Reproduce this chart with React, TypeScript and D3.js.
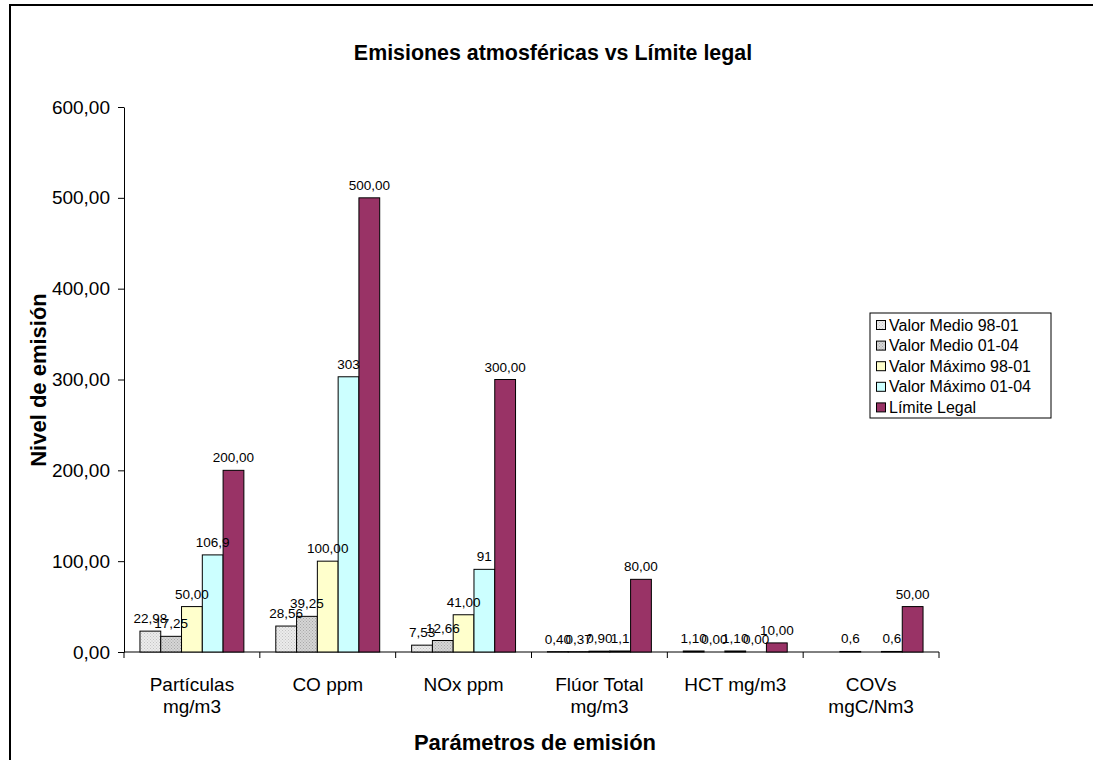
import React, { useRef, useEffect } from 'react';
import * as d3 from 'd3';

const categories = ['Partículas\nmg/m3', 'CO ppm', 'NOx ppm', 'Flúor Total\nmg/m3', 'HCT mg/m3', 'COVs\nmgC/Nm3'];
const seriesNames = ['Valor Medio 98-01', 'Valor Medio 01-04', 'Valor Máximo 98-01', 'Valor Máximo 01-04', 'Límite Legal'];

const medio9801 = [22.98, 28.56, 7.53, 0.4, 1.1, null];
const medio0104 = [17.25, 39.25, 12.66, 0.37, 0.0, 0.6];
const maximo9801 = [50.0, 100.0, 41.0, 0.9, 1.1, null];
const maximo0104 = [106.9, 303, 91, 1.1, 0.0, 0.6];
const limiteLegal = [200.0, 500.0, 300.0, 80.0, 10.0, 50.0];

// labels exactly as printed on the chart
const medio9801Labels = ['22,98', '28,56', '7,53', '0,40', '1,10', ''];
const medio0104Labels = ['17,25', '39,25', '12,66', '0,37', '0,00', '0,6'];
const maximo9801Labels = ['50,00', '100,00', '41,00', '0,90', '1,10', ''];
const maximo0104Labels = ['106,9', '303', '91', '1,1', '0,00', '0,6'];
const limiteLegalLabels = ['200,00', '500,00', '300,00', '80,00', '10,00', '50,00'];

const yTicks = [0, 100, 200, 300, 400, 500, 600];

const font = '"Liberation Sans", Arial, sans-serif';

export default function App() {
  const chartRef = useRef<SVGSVGElement>(null);

  useEffect(() => {
    const svg = d3.select(chartRef.current);
    svg.selectAll('*').remove();

    const allValues = [medio9801, medio0104, maximo9801, maximo0104, limiteLegal];
    const allLabels = [medio9801Labels, medio0104Labels, maximo9801Labels, maximo0104Labels, limiteLegalLabels];
    const fills = ['url(#dotLight)', 'url(#dotDark)', '#ffffcc', '#ccffff', '#993366'];

    const defs = svg.append('defs');
    const mkPattern = (id: string, bg: string, dot: string) => {
      const p = defs.append('pattern')
        .attr('id', id)
        .attr('width', 3)
        .attr('height', 3)
        .attr('patternUnits', 'userSpaceOnUse');
      p.append('rect').attr('width', 3).attr('height', 3).attr('fill', bg);
      p.append('rect').attr('x', 0).attr('y', 0).attr('width', 1).attr('height', 1).attr('fill', dot);
      p.append('rect').attr('x', 1.5).attr('y', 1.5).attr('width', 1).attr('height', 1).attr('fill', dot);
    };
    mkPattern('dotLight', '#ececec', '#c4c4c4');
    mkPattern('dotDark', '#d6d6d6', '#a8a8a8');

    svg.append('rect')
      .attr('x', 0).attr('y', 0)
      .attr('width', 1093).attr('height', 760)
      .attr('fill', 'white');

    // outer frame: only top and left edges are inside the picture
    svg.append('path')
      .attr('d', 'M10,760 L10,5 L1093,5')
      .attr('fill', 'none')
      .attr('stroke', 'black')
      .attr('stroke-width', 2);

    const x = d3.scaleBand<string>()
      .domain(categories)
      .range([124, 939])
      .paddingInner(0.235)
      .paddingOuter(0.1175);

    const xs = d3.scaleBand<number>()
      .domain(d3.range(seriesNames.length))
      .range([0, x.bandwidth()]);

    const y = d3.scaleLinear().domain([0, 600]).range([652, 107]);

    const fmt = d3.formatLocale({ decimal: ',', thousands: '.', grouping: [3], currency: ['', '€'] }).format('.2f');

    // y axis
    const yAxis = svg.append('g')
      .attr('transform', 'translate(124,0)')
      .call(d3.axisLeft(y).tickValues(yTicks).tickFormat(d => fmt(d as number)).tickSize(6).tickSizeOuter(0));
    yAxis.select('.domain').attr('stroke', '#000');
    yAxis.selectAll('.tick line').attr('stroke', '#000');
    yAxis.selectAll('.tick text')
      .attr('font-family', font)
      .attr('font-size', 19)
      .attr('fill', '#000')
      .attr('x', -14);

    // x axis line + boundary ticks
    const step = x.step();
    const bounds = d3.range(categories.length + 1).map(i => x.range()[0] + i * step);
    svg.append('line')
      .attr('x1', x.range()[0]).attr('x2', x.range()[1])
      .attr('y1', y(0)).attr('y2', y(0))
      .attr('stroke', '#000');
    svg.selectAll('.xtick')
      .data(bounds)
      .enter().append('line')
      .attr('class', 'xtick')
      .attr('x1', d => d).attr('x2', d => d)
      .attr('y1', y(0)).attr('y2', y(0) + 6)
      .attr('stroke', '#000');

    // category labels
    categories.forEach(c => {
      const cx = x(c)! + x.bandwidth() / 2;
      c.split('\n').forEach((line, i) => {
        svg.append('text')
          .attr('x', cx)
          .attr('y', 691 + i * 22)
          .attr('text-anchor', 'middle')
          .attr('font-family', font)
          .attr('font-size', 19)
          .text(line);
      });
    });

    // bars
    const barG = svg.append('g');
    allValues.forEach((vals, s) => {
      categories.forEach((c, i) => {
        const v = vals[i];
        if (v === null) return;
        barG.append('rect')
          .attr('x', x(c)! + xs(s)!)
          .attr('y', y(v))
          .attr('width', xs.bandwidth())
          .attr('height', y(0) - y(v))
          .attr('fill', fills[s])
          .attr('stroke', '#000')
          .attr('stroke-width', 1);
      });
    });

    // data labels on top of all bars
    const labelG = svg.append('g');
    allValues.forEach((vals, s) => {
      categories.forEach((c, i) => {
        const v = vals[i];
        if (v === null) return;
        labelG.append('text')
          .attr('x', x(c)! + xs(s)! + xs.bandwidth() / 2)
          .attr('y', y(v) - 8)
          .attr('text-anchor', 'middle')
          .attr('font-family', font)
          .attr('font-size', 13.5)
          .text(allLabels[s][i]);
      });
    });

    // title
    svg.append('text')
      .attr('x', 553).attr('y', 60)
      .attr('text-anchor', 'middle')
      .attr('font-family', font)
      .attr('font-weight', 'bold')
      .attr('font-size', 21.4)
      .text('Emisiones atmosféricas vs Límite legal');

    svg.append('text')
      .attr('x', 535).attr('y', 750)
      .attr('text-anchor', 'middle')
      .attr('font-family', font)
      .attr('font-weight', 'bold')
      .attr('font-size', 22)
      .text('Parámetros de emisión');

    svg.append('text')
      .attr('transform', 'translate(46,380) rotate(-90)')
      .attr('text-anchor', 'middle')
      .attr('font-family', font)
      .attr('font-weight', 'bold')
      .attr('font-size', 22)
      .text('Nivel de emisión');

    // legend
    const legend = svg.append('g').attr('transform', 'translate(870,313)');
    legend.append('rect')
      .attr('width', 181).attr('height', 105)
      .attr('fill', 'white')
      .attr('stroke', '#000');
    seriesNames.forEach((name, i) => {
      legend.append('rect')
        .attr('x', 6.5).attr('y', 7.5 + i * 20.6)
        .attr('width', 9).attr('height', 9)
        .attr('fill', fills[i])
        .attr('stroke', '#000');
      legend.append('text')
        .attr('x', 19).attr('y', 17.5 + i * 20.6)
        .attr('font-family', font)
        .attr('font-size', 16)
        .text(name);
    });
  }, []);

  return (
    <svg ref={chartRef} width={1093} height={760} style={{ position: 'absolute', left: 0, top: 0 }}></svg>
  );
}
